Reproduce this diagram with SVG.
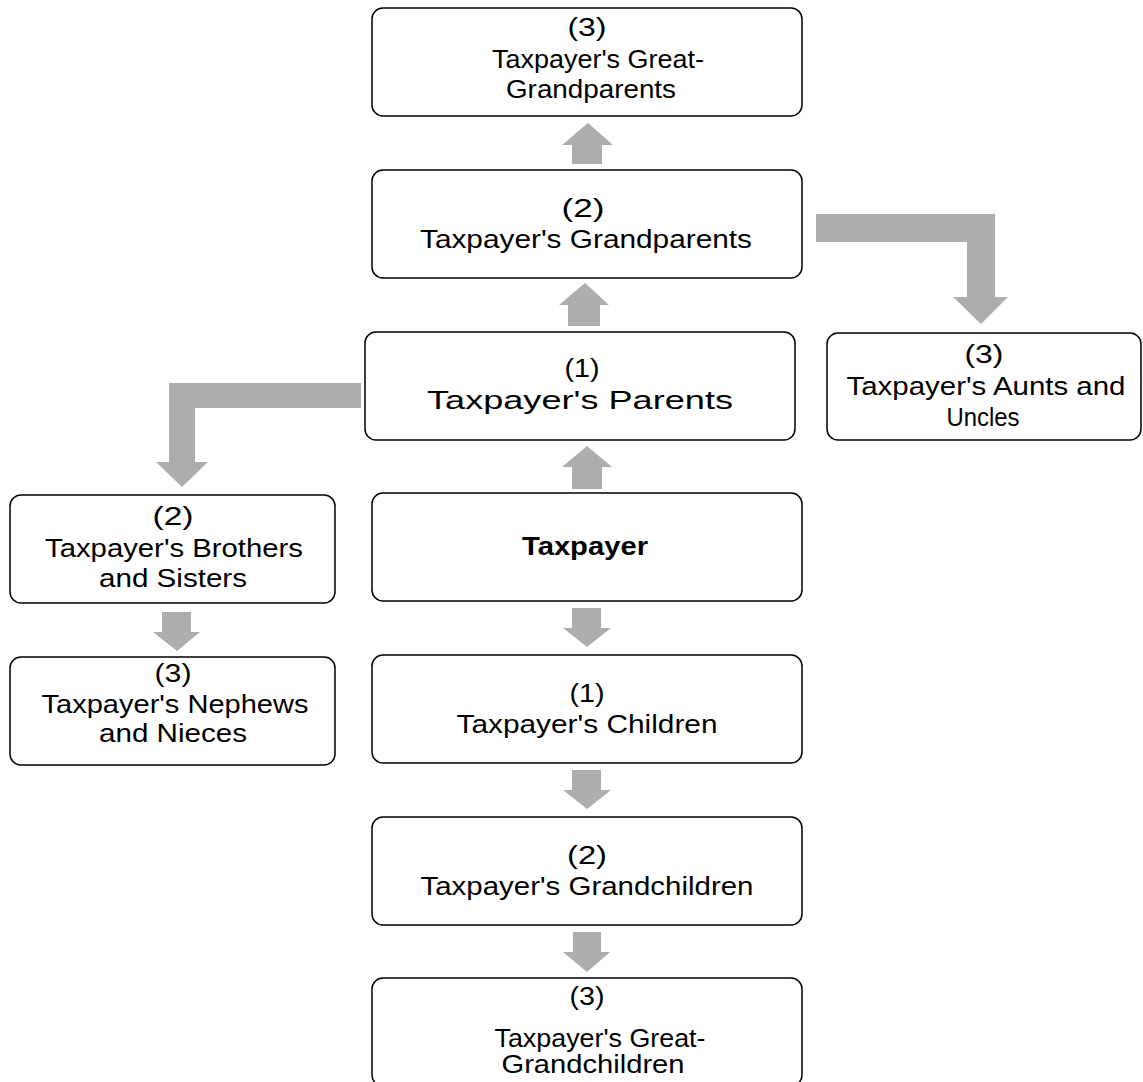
<svg xmlns="http://www.w3.org/2000/svg" width="1143" height="1082" viewBox="0 0 1143 1082">
<style>
.box{fill:#fff;stroke:#000;stroke-width:1.5}
.t{font-family:"Liberation Sans",Arial,sans-serif;font-size:25px;fill:#000;text-anchor:middle}
.b{font-weight:bold;font-size:26px}
.arr{fill:#adadad}
</style>
<rect width="1143" height="1082" fill="#fff"/>
<g id="connectors">
<polygon class="arr" points="588,123 613,145 602,145 602,164 572,164 572,145 562,145"/>
<polygon class="arr" points="585,283 609,305 600,305 600,326 568,326 568,305 559,305"/>
<polygon class="arr" points="587,446 612,467 602,467 602,489 572,489 572,467 562,467"/>
<polygon class="arr" points="572,608 601,608 601,628 611,628 587,647 563,628 572,628"/>
<polygon class="arr" points="572,770 601,770 601,790 611,790 587,809 563,790 572,790"/>
<polygon class="arr" points="573,932 601,932 601,952 610,952 587,972 563,952 573,952"/>
<polygon class="arr" points="162,612 191,612 191,632 200,632 177,651 153,632 162,632"/>
<polygon class="arr" points="816,214 995,214 995,297 1008,297 981,324 953,297 967,297 967,242 816,242"/>
<polygon class="arr" points="361,383 169,383 169,462 156,462 182,487 208,462 195,462 195,408 361,408"/>
</g>
<g id="great-grandparents">
<rect class="box" x="372" y="8" width="430" height="108" rx="11"/>
<text class="t" x="587" y="36" textLength="39" lengthAdjust="spacingAndGlyphs">(3)</text>
<text class="t" x="598" y="68" textLength="212" lengthAdjust="spacingAndGlyphs">Taxpayer's Great-</text>
<text class="t" x="591" y="98" textLength="170" lengthAdjust="spacingAndGlyphs">Grandparents</text>
</g>
<g id="grandparents">
<rect class="box" x="372" y="170" width="430" height="108" rx="11"/>
<text class="t" x="583" y="217" textLength="43" lengthAdjust="spacingAndGlyphs">(2)</text>
<text class="t" x="586" y="248" textLength="332" lengthAdjust="spacingAndGlyphs">Taxpayer's Grandparents</text>
</g>
<g id="parents">
<rect class="box" x="365" y="332" width="430" height="108" rx="11"/>
<text class="t" x="582" y="377" textLength="35" lengthAdjust="spacingAndGlyphs">(1)</text>
<text class="t" x="580" y="409" textLength="306" lengthAdjust="spacingAndGlyphs">Taxpayer's Parents</text>
</g>
<g id="aunts-uncles">
<rect class="box" x="827" y="333" width="314" height="107" rx="11"/>
<text class="t" x="984" y="363" textLength="39" lengthAdjust="spacingAndGlyphs">(3)</text>
<text class="t" x="986" y="395" textLength="279" lengthAdjust="spacingAndGlyphs">Taxpayer's Aunts and</text>
<text class="t" x="983" y="426" textLength="73" lengthAdjust="spacingAndGlyphs">Uncles</text>
</g>
<g id="brothers-sisters">
<rect class="box" x="10" y="495" width="325" height="108" rx="11"/>
<text class="t" x="173" y="525" textLength="41" lengthAdjust="spacingAndGlyphs">(2)</text>
<text class="t" x="174" y="557" textLength="258" lengthAdjust="spacingAndGlyphs">Taxpayer's Brothers</text>
<text class="t" x="173" y="587" textLength="148" lengthAdjust="spacingAndGlyphs">and Sisters</text>
</g>
<g id="taxpayer">
<rect class="box" x="372" y="493" width="430" height="108" rx="11"/>
<text class="t b" x="585" y="555" textLength="126" lengthAdjust="spacingAndGlyphs">Taxpayer</text>
</g>
<g id="nephews-nieces">
<rect class="box" x="10" y="657" width="325" height="108" rx="11"/>
<text class="t" x="173" y="682" textLength="37" lengthAdjust="spacingAndGlyphs">(3)</text>
<text class="t" x="175" y="713" textLength="267" lengthAdjust="spacingAndGlyphs">Taxpayer's Nephews</text>
<text class="t" x="173" y="742" textLength="148" lengthAdjust="spacingAndGlyphs">and Nieces</text>
</g>
<g id="children">
<rect class="box" x="372" y="655" width="430" height="108" rx="11"/>
<text class="t" x="587" y="702" textLength="35" lengthAdjust="spacingAndGlyphs">(1)</text>
<text class="t" x="587" y="733" textLength="261" lengthAdjust="spacingAndGlyphs">Taxpayer's Children</text>
</g>
<g id="grandchildren">
<rect class="box" x="372" y="817" width="430" height="108" rx="11"/>
<text class="t" x="587" y="864" textLength="40" lengthAdjust="spacingAndGlyphs">(2)</text>
<text class="t" x="587" y="895" textLength="333" lengthAdjust="spacingAndGlyphs">Taxpayer's Grandchildren</text>
</g>
<g id="great-grandchildren">
<rect class="box" x="372" y="978" width="430" height="108" rx="11"/>
<text class="t" x="587" y="1005" textLength="35" lengthAdjust="spacingAndGlyphs">(3)</text>
<text class="t" x="600" y="1047" textLength="211" lengthAdjust="spacingAndGlyphs">Taxpayer's Great-</text>
<text class="t" x="593" y="1073" textLength="183" lengthAdjust="spacingAndGlyphs">Grandchildren</text>
</g>
</svg>
